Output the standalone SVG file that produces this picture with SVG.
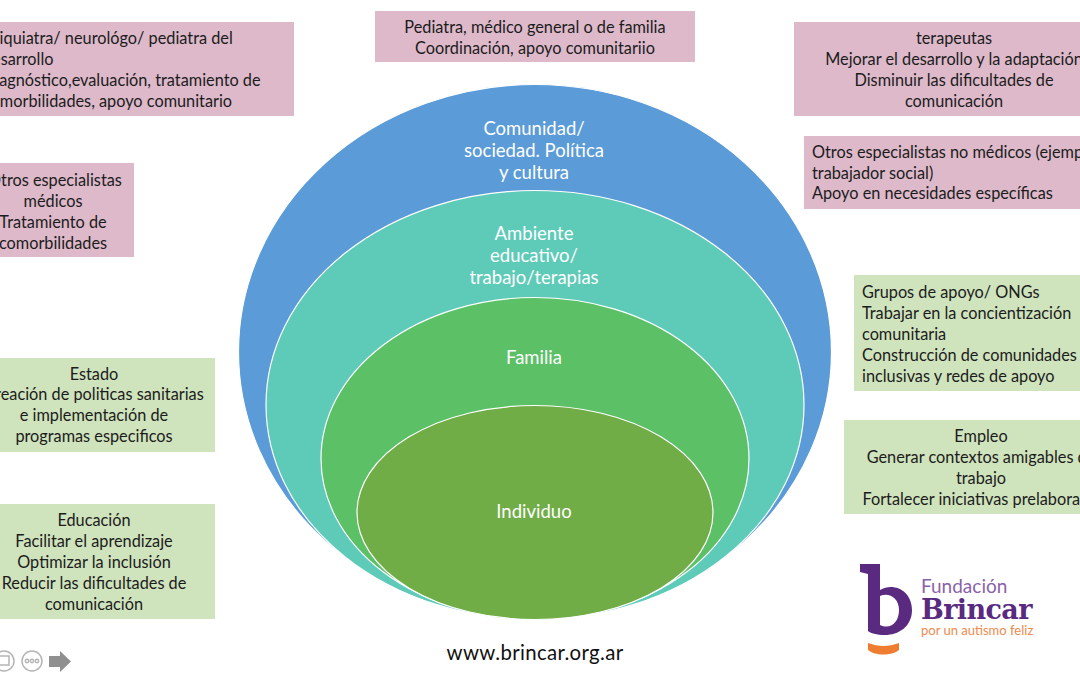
<svg xmlns="http://www.w3.org/2000/svg" width="1080" height="675" viewBox="0 0 1080 675">
<style>
text{font-family:"Lato","Open Sans","Liberation Sans",sans-serif;font-size:16.3px;fill:#1c1c1c;transform:translateY(.7px)}
.c{text-anchor:middle}
.w{fill:#fff;font-size:18.5px;text-anchor:middle}
.p{fill:#ddb9ca}
.g{fill:#cfe3bd}
.e{stroke:#fff;stroke-width:1.2}
</style>
<rect width="1080" height="675" fill="#fff"/>
<g id="capas">
<g id="comunidad"><ellipse class="e" cx="535" cy="352" rx="296.500" ry="267.500" fill="#5b9bd8"/><text class="w" x="534" y="134">Comunidad/</text><text class="w" x="534" y="156">sociedad. Política</text><text class="w" x="534" y="178">y cultura</text></g>
<g id="ambiente"><ellipse class="e" cx="535" cy="405" rx="269" ry="214.500" fill="#5ecbb8"/><text class="w" x="534" y="239">Ambiente</text><text class="w" x="534" y="261">educativo/</text><text class="w" x="534" y="283">trabajo/terapias</text></g>
<g id="familia"><ellipse class="e" cx="535" cy="458.500" rx="214" ry="161" fill="#5bc066"/><text class="w" x="534" y="363">Familia</text></g>
<g id="individuo"><ellipse class="e" cx="535" cy="512.500" rx="178" ry="107" fill="#70ad47"/><text class="w" x="534" y="517">Individuo</text></g>
</g>
<g id="psiquiatra"><rect class="p" x="-10" y="22" width="304" height="94"/><text x="-17" y="43">Psiquiatra/ neurológo/ pediatra del</text><text x="-17" y="64">desarrollo</text><text x="-17" y="85">Diagnóstico,evaluación, tratamiento de</text><text x="-17" y="106">comorbilidades, apoyo comunitario</text></g>
<g id="pediatra"><rect class="p" x="375" y="11" width="320" height="51"/><text class="c" x="535" y="32">Pediatra, médico general o de familia</text><text class="c" x="535" y="53">Coordinación, apoyo comunitariio</text></g>
<g id="terapeutas"><rect class="p" x="794" y="22" width="296" height="94"/><text class="c" x="954" y="43">terapeutas</text><text class="c" x="954" y="64">Mejorar el desarrollo y la adaptación</text><text class="c" x="954" y="85">Disminuir las dificultades de</text><text class="c" x="954" y="106">comunicación</text></g>
<g id="otros-medicos"><rect class="p" x="-10" y="163" width="144" height="94"/><text class="c" x="55" y="185">Otros especialistas</text><text class="c" x="53" y="206">médicos</text><text class="c" x="53" y="227">Tratamiento de</text><text class="c" x="53" y="248">comorbilidades</text></g>
<g id="otros-no-medicos"><rect class="p" x="804" y="136" width="286" height="73"/><text x="812" y="157">Otros especialistas no médicos (ejemplo</text><text x="812" y="178">trabajador social)</text><text x="812" y="198">Apoyo en necesidades específicas</text></g>
<g id="grupos"><rect class="g" x="854" y="275" width="236" height="116"/><text x="862" y="297">Grupos de apoyo/ ONGs</text><text x="862" y="318">Trabajar en la concientización</text><text x="862" y="339">comunitaria</text><text x="862" y="360">Construcción de comunidades</text><text x="862" y="381">inclusivas y redes de apoyo</text></g>
<g id="empleo"><rect class="g" x="844" y="420" width="246" height="94"/><text class="c" x="981" y="441">Empleo</text><text class="c" x="981" y="462">Generar contextos amigables de</text><text class="c" x="981" y="483">trabajo</text><text class="c" x="981" y="504">Fortalecer iniciativas prelaborales</text></g>
<g id="estado"><rect class="g" x="-10" y="358" width="225" height="94"/><text class="c" x="94" y="379">Estado</text><text class="c" x="94" y="399">Creación de politicas sanitarias</text><text class="c" x="94" y="420">e implementación de</text><text class="c" x="94" y="441">programas especificos</text></g>
<g id="educacion"><rect class="g" x="-10" y="504" width="225" height="115"/><text class="c" x="94" y="525">Educación</text><text class="c" x="94" y="546">Facilitar el aprendizaje</text><text class="c" x="94" y="567">Optimizar la inclusión</text><text class="c" x="94" y="588">Reducir las dificultades de</text><text class="c" x="94" y="609">comunicación</text></g>
<text id="web" class="c" x="535" y="659" style="font-size:20.4px;letter-spacing:.35px;fill:#111">www.brincar.org.ar</text>
<g id="logo">
<path d="M860 564H880V590C893 582 912 590 912 610C912 627 898 635 885 635C877 635 870 633 868 631V574L860 572Z" fill="#592a80"/>
<path d="M880 596V625C891 630 899 622 899 610C899 597 888 592 880 596Z" fill="#fff"/>
<path d="M868 643C879 647 888 647 899 643V650C892 656 875 656 868 650Z" fill="#ee7d31"/>
<text x="921" y="592" style="font-size:19px;fill:#8a62a8">Fundación</text>
<text x="921" y="618" style="font-family:'DejaVu Serif','Liberation Serif',serif;font-size:27px;font-weight:700;fill:#592a80;letter-spacing:-.6px">Brincar</text>
<text x="921" y="634" style="font-size:13px;fill:#ee8a4d">por un autismo feliz</text>
</g>
<g id="controles" fill="none" stroke="#b5b5b5" stroke-width="1.5">
<circle cx="4" cy="661" r="10"/><rect x="-1" y="656" width="10" height="9"/>
<circle cx="32" cy="661" r="10"/><circle cx="27" cy="661" r="1.7"/><circle cx="32" cy="661" r="1.7"/><circle cx="37" cy="661" r="1.7"/>
<path d="M49 656H60V651L71 661.500 60 672V667H49Z" fill="#8f8f8f" stroke="none"/>
</g>
</svg>
